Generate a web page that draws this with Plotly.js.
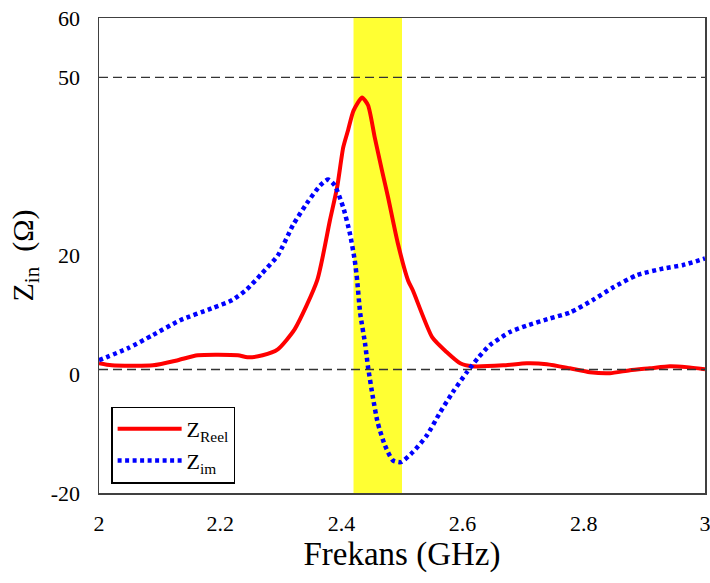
<!DOCTYPE html>
<html>
<head>
<meta charset="utf-8">
<script src="https://cdn.plot.ly/plotly-3.0.1.min.js"></script>
<style>html,body{margin:0;padding:0;background:#fff;}#chart{width:710px;height:583px;}</style>
</head>
<body>
<div id="chart"></div>
<script>
// Z_Reel (real part)
const reelFreq = [2.000,2.021,2.089,2.130,2.163,2.229,2.245,2.270,2.295,2.323,2.360,2.381,2.393,2.403,2.411,2.420,2.434,2.444,2.455,2.467,2.477,2.493,2.510,2.518,2.550,2.574,2.596,2.616,2.667,2.706,2.739,2.777,2.810,2.843,2.876,2.909,2.942,2.970,3.000];
const reelVals = [1.85,1.5,1.5,2.36,3.2,3.2,2.86,3.2,4.2,7.6,15.8,25.9,31.5,38.2,41.1,44.4,46.6,45.3,39.9,34.3,29.8,22.1,15.8,14.1,6.2,3.7,1.85,1.35,1.5,1.85,1.7,1.0,0.34,0.17,0.67,1.0,1.35,1.2,0.84];
// Z_im (imaginary part)
const imFreq = [2.000,2.048,2.089,2.134,2.186,2.220,2.244,2.269,2.295,2.320,2.343,2.365,2.378,2.389,2.403,2.414,2.422,2.426,2.431,2.439,2.444,2.452,2.460,2.472,2.485,2.498,2.518,2.541,2.563,2.584,2.607,2.625,2.645,2.678,2.706,2.744,2.777,2.815,2.848,2.888,2.931,2.964,3.000];
const imVals = [2.36,4.4,6.6,9.1,11.1,12.5,14.3,17.0,20.0,25.1,28.8,31.8,32.8,31.8,28.1,23.7,19.2,15.8,10.3,5.2,1.2,-3.9,-8.2,-12.0,-14.5,-14.8,-13.1,-10.3,-6.4,-3.0,0.34,2.7,4.9,7.1,8.2,9.4,10.4,12.5,14.6,16.7,17.8,18.4,19.5];
// band and reference levels
const bandFreq = [2.42, 2.50];
const refLevels = [50, 0.8];
const yTicks = [-20, 0, 20, 50, 60];
const yTickText = ['-20', '0', '20', '50', '60'];
const xTicks = [2, 2.2, 2.4, 2.6, 2.8, 3];
const xTickText = ['2', '2.2', '2.4', '2.6', '2.8', '3'];
const seriesNames = ['Z<sub>Reel</sub>', 'Z<sub>im</sub>'];

const serif = 'Liberation Serif';

const traces = [
  {x: reelFreq, y: reelVals, name: seriesNames[0], mode: 'lines', line: {color: '#ff0000', width: 4, shape: 'spline', smoothing: 0.6}},
  {x: imFreq, y: imVals, name: seriesNames[1], mode: 'lines', line: {color: '#0000ff', width: 4.5, dash: '4px,3.5px', shape: 'spline', smoothing: 0.6}}
];

const shapes = [
  {type: 'rect', xref: 'x', yref: 'paper', x0: bandFreq[0], x1: bandFreq[1], y0: 0, y1: 1, fillcolor: '#ffff33', line: {width: 0}, layer: 'below'}
].concat(refLevels.map(v => ({type: 'line', xref: 'paper', yref: 'y', x0: 0, x1: 1, y0: v, y1: v, line: {color: '#333333', width: 1.3, dash: '9px,5px'}, layer: 'above'})));

const layout = {
  width: 710, height: 583,
  margin: {l: 99, r: 5, t: 18, b: 90},
  paper_bgcolor: '#ffffff', plot_bgcolor: '#ffffff',
  font: {family: serif, color: '#000', size: 22},
  showlegend: true,
  legend: {x: 0.02, y: 0.02, xanchor: 'left', yanchor: 'bottom', bgcolor: '#ffffff', bordercolor: '#000000', borderwidth: 1.5, font: {family: serif, size: 22, color: '#000'}, itemwidth: 64, tracegroupgap: 0},
  xaxis: {
    range: [2, 3], tickvals: xTicks, ticktext: xTickText, showgrid: false, zeroline: false,
    showline: true, linecolor: '#404040', linewidth: 1.5, mirror: true, ticks: '', ticklabelstandoff: 10,
    ticklabeloverflow: 'allow',
    tickfont: {family: serif, size: 22, color: '#000'},
    title: {text: 'Frekans (GHz)', font: {family: serif, size: 33, color: '#000'}, standoff: 6}
  },
  yaxis: {
    range: [-20, 60], tickvals: yTicks, ticktext: yTickText, showgrid: false, zeroline: false,
    showline: true, linecolor: '#404040', linewidth: 1.5, mirror: true, ticks: '', ticklabelstandoff: 13,
    ticklabeloverflow: 'allow',
    tickfont: {family: serif, size: 22, color: '#000'},
    title: {text: 'Z<sub>in</sub>  (Ω)', font: {family: serif, size: 30, color: '#000'}, standoff: 8}
  },
  shapes: shapes
};

Plotly.newPlot('chart', traces, layout, {displayModeBar: false, staticPlot: true});
</script>
</body>
</html>
